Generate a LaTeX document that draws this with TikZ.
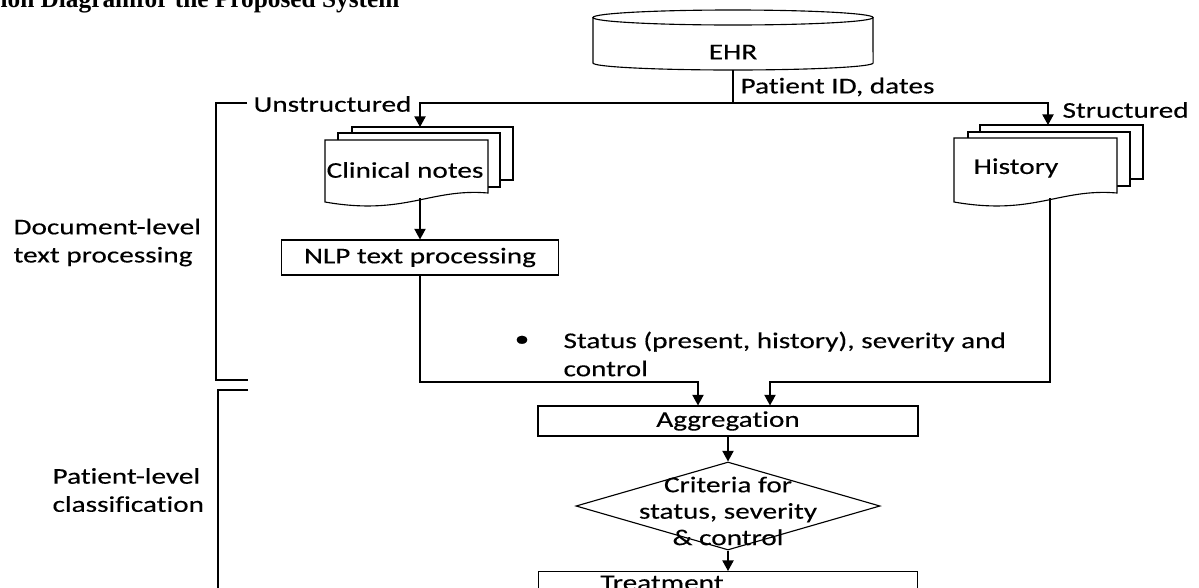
\documentclass[tikz,border=0pt]{standalone}
\usepackage{fontspec}
\setmainfont{Carlito}[FakeStretch=1.3, FakeBold=0.3, Ligatures=NoCommon]
\newfontfamily\titlefont{Liberation Serif}
\usetikzlibrary{shapes.geometric, arrows.meta, positioning}

\begin{document}
\begin{tikzpicture}[x=0.025cm, y=-0.025cm, line width=0.8pt,
  font=\fontsize{16}{20}\selectfont,
  box/.style={draw, rectangle, inner sep=0pt},
  decision/.style={draw, diamond, inner sep=0pt, minimum width=7.6cm, minimum height=2.2cm},
  lbl/.style={inner sep=0pt},
  arr/.style={-{Triangle[width=8pt,length=7.5pt]}}]

\useasboundingbox (0,0) rectangle (1199,587);

% title, cut at the top
\node[lbl, anchor=base west] (title) at (0,7.5) {\titlefont\fontsize{18}{20}\selectfont\bfseries ion Diagramfor the Proposed System};

% EHR store
\draw (593,17.5) -- (593,63) arc[start angle=180, end angle=360, x radius=3.5cm, y radius=0.175cm] -- (873,17.5);
\draw (733,17.5) ellipse [x radius=3.5cm, y radius=0.1875cm];
\node[lbl] (ehr) at (733,52) {EHR};
\coordinate (ehrout) at (733,70);
\coordinate (split) at (733,103);
\node[lbl, anchor=west] (ids) at (740,87) {Patient ID, dates};

% clinical notes stack
\draw[fill=white] (352,127) rectangle (513,180);
\draw[fill=white] (338,133) rectangle (500,187);
\draw[fill=white] (325,140) -- (488,140) -- (488,193) .. controls (430,188) and (405,216) .. (325,202) -- cycle;
\node[lbl] (notes) at (405,170) {Clinical notes};
\coordinate (notesin) at (420,127);
\coordinate (notesout) at (420,198);

% history stack
\draw[fill=white] (980,125) rectangle (1143,179);
\draw[fill=white] (968,132) rectangle (1130,186);
\draw[fill=white] (954,138) -- (1117,138) -- (1117,193) .. controls (1059,188) and (1034,216) .. (954,202) -- cycle;
\node[lbl] (hist) at (1016,168) {History};
\coordinate (histin) at (1048,125);
\coordinate (histout) at (1050,198);

\node[lbl, anchor=west] (unstr) at (253,104) {Unstructured};
\node[lbl, anchor=west] (str) at (1062,110) {Structured};

% processing steps
\node[box, minimum width=6.925cm, minimum height=0.875cm] (nlp) at (420,257.5) {NLP text processing};
\node[lbl] (bullet) at (522,341) {\textbullet};
\node[lbl, anchor=west, align=left] (status) at (563,354) {Status (present, history), severity and\\control};
\node[box, minimum width=9.5cm, minimum height=0.75cm] (agg) at (728,421) {Aggregation};
\node[decision] (crit) at (728,506) {};
\node[lbl, align=center, font=\fontsize{16}{18.8}\selectfont] (critlbl) at (728,511) {Criteria for\\status, severity\\\& control};
\node[box, anchor=north, minimum width=9.475cm, minimum height=1cm] (treat) at (728,571) {};
\node[lbl] (treatlbl) at (662,583) {Treatment};

\coordinate (join1) at (698,382);
\coordinate (join2) at (770,382);

% connectors
\draw (ehrout) -- (split);
\draw[arr] (split) -| (notesin);
\draw[arr] (split) -| (histin);
\draw[arr] (notesout) -- (nlp.north);
\draw[arr] (nlp.south) |- (join1) -- (join1 |- agg.north);
\draw[arr] (histout) |- (join2) -- (join2 |- agg.north);
\draw[arr] (agg.south) -- (crit.north);
\draw[arr] (crit.south) -- (treat.north);

% level brackets
\draw (247,103) -- (216,103) -- (216,380) -- (248,380);
\draw (248,390) -- (218,390) -- (218,600);
\node[lbl, anchor=west, align=left] (doclvl) at (13,242.5) {Document-level\\text processing};
\node[lbl, anchor=west, align=left] (patlvl) at (52,490) {Patient-level\\classification};

\end{tikzpicture}
\end{document}
